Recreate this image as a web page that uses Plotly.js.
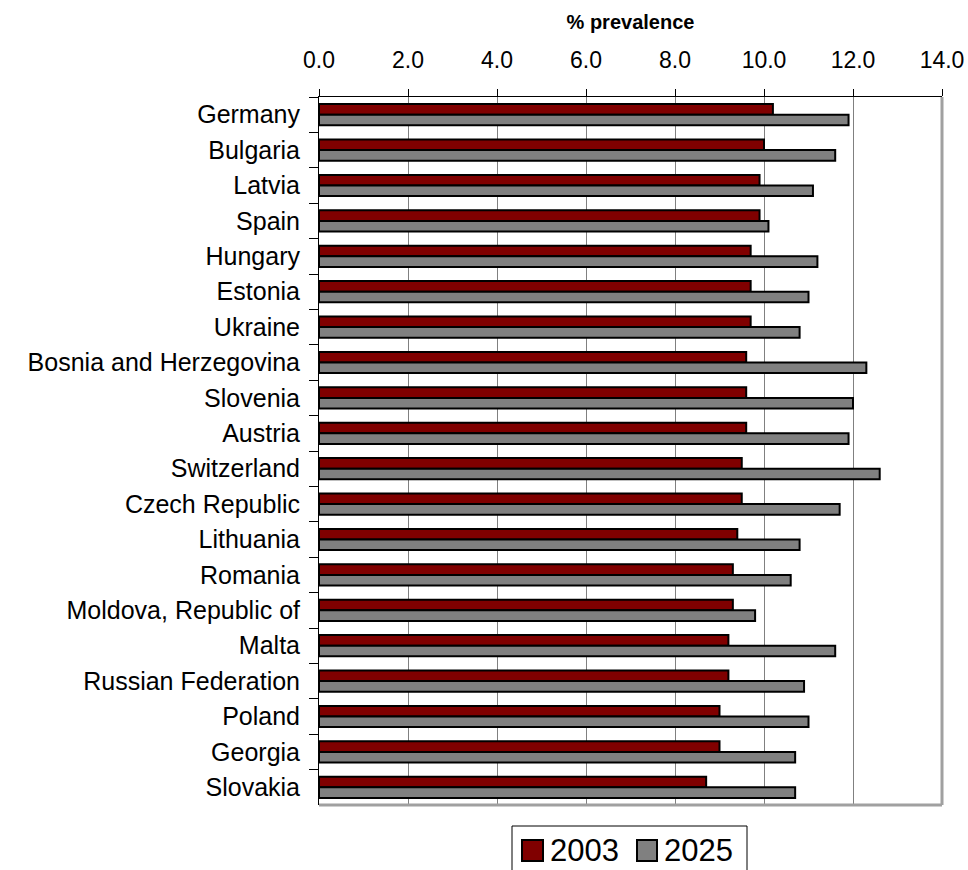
<!DOCTYPE html>
<html>
<head>
<meta charset="utf-8">
<script src="https://cdn.plot.ly/plotly-3.0.1.min.js"></script>
<style>html,body{margin:0;padding:0;background:#fff;}#chart{width:968px;height:870px;}</style>
</head>
<body>
<div id="chart"></div>
<script>
var countries = ["Germany","Bulgaria","Latvia","Spain","Hungary","Estonia","Ukraine","Bosnia and Herzegovina","Slovenia","Austria","Switzerland","Czech Republic","Lithuania","Romania","Moldova, Republic of","Malta","Russian Federation","Poland","Georgia","Slovakia"];
var values2003 = [10.2,10.0,9.9,9.9,9.7,9.7,9.7,9.6,9.6,9.6,9.5,9.5,9.4,9.3,9.3,9.2,9.2,9.0,9.0,8.7];
var values2025 = [11.9,11.6,11.1,10.1,11.2,11.0,10.8,12.3,12.0,11.9,12.6,11.7,10.8,10.6,9.8,11.6,10.9,11.0,10.7,10.7];
var seriesNames = ["2003","2025"];
var xTicks = [0,2,4,6,8,10,12,14];

var FONT = "Liberation Sans, Arial, sans-serif";
var red = "#800000", gray = "#808080";

var traces = [
  {type:"bar", orientation:"h", name:seriesNames[0], y:countries, x:values2003,
   marker:{color:red, line:{color:"#000", width:2}}, hoverinfo:"x+y"},
  {type:"bar", orientation:"h", name:seriesNames[1], y:countries, x:values2025,
   marker:{color:gray, line:{color:"#000", width:2}}, hoverinfo:"x+y"}
];

// legend built from shapes/annotations (paper coords)
var L = 319, R = 942, T = 97, B = 805;
function px(x){return (x-L)/(R-L);}
function py(y){return (B-y)/(B-T);}

var layout = {
  width:968, height:870,
  margin:{l:L, r:968-R, t:T, b:870-B, pad:0},
  paper_bgcolor:"#fff", plot_bgcolor:"#fff",
  font:{family:FONT, color:"#000"},
  showlegend:false,
  barmode:"group", bargap:0.4, bargroupgap:0,
  xaxis:{
    side:"top", range:[0,14], tickvals:xTicks, ticktext:xTicks.map(function(v){return v.toFixed(1);}),
    showgrid:true, gridcolor:"#808080", gridwidth:1,
    showline:true, linecolor:"#000", linewidth:1,
    ticks:"outside", ticklen:7, tickcolor:"#000", tickwidth:1,
    tickfont:{size:23, family:FONT},
    ticklabelstandoff:12,
    zeroline:false, fixedrange:true,
    title:{text:"<b>% prevalence</b>", font:{size:20, family:FONT}, standoff:11}
  },
  yaxis:{
    type:"category", autorange:"reversed",
    showline:true, linecolor:"#000", linewidth:1,
    ticks:"outside", ticklen:9, tickcolor:"#000", tickwidth:1,
    tickson:"boundaries", showgrid:false,
    tickfont:{size:25, family:FONT},
    ticklabelstandoff:13,
    fixedrange:true
  },
  shapes:[
    {type:"line", xref:"paper", yref:"paper", x0:1, x1:1, y0:0, y1:1, line:{color:"#a0a0a0", width:3}},
    {type:"line", xref:"paper", yref:"paper", x0:0, x1:1, y0:0, y1:0, line:{color:"#a0a0a0", width:3}},
    {type:"rect", xref:"paper", yref:"paper", x0:px(512), x1:px(747), y0:py(826), y1:py(880), line:{color:"#000", width:1}, fillcolor:"rgba(0,0,0,0)"},
    {type:"rect", xref:"paper", yref:"paper", x0:px(522), x1:px(543), y0:py(840), y1:py(861), line:{color:"#000", width:2}, fillcolor:red},
    {type:"rect", xref:"paper", yref:"paper", x0:px(637), x1:px(657), y0:py(840), y1:py(861), line:{color:"#000", width:2}, fillcolor:gray}
  ],
  annotations:[
    {xref:"paper", yref:"paper", x:px(548), y:py(851), xanchor:"left", yanchor:"middle", text:seriesNames[0], showarrow:false, font:{size:31, family:FONT, color:"#000"}},
    {xref:"paper", yref:"paper", x:px(662), y:py(851), xanchor:"left", yanchor:"middle", text:seriesNames[1], showarrow:false, font:{size:31, family:FONT, color:"#000"}}
  ]
};

Plotly.newPlot("chart", traces, layout, {displayModeBar:false, staticPlot:true});
</script>
</body>
</html>
